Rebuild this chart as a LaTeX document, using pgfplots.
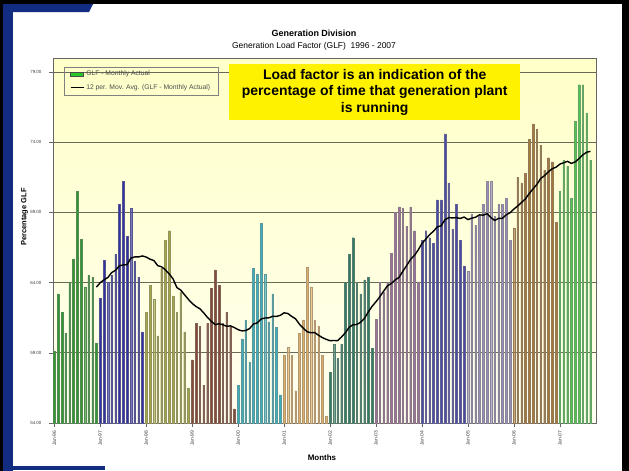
\documentclass[border=0pt]{standalone}
\usepackage{pgfplots}
\pgfplotsset{compat=1.18}
\usepackage{fontspec}
\setmainfont{Liberation Sans}
\definecolor{navy}{RGB}{18,44,130}
\definecolor{c96}{RGB}{50,150,50}
\definecolor{c97}{RGB}{50,50,165}
\definecolor{c98}{RGB}{165,165,70}
\definecolor{c99}{RGB}{135,75,55}
\definecolor{c00}{RGB}{60,175,185}
\definecolor{c01}{RGB}{220,175,105}
\definecolor{c02}{RGB}{50,125,100}
\definecolor{c03}{RGB}{155,115,150}
\definecolor{c04}{RGB}{75,75,165}
\definecolor{c05}{RGB}{150,140,180}
\definecolor{c06}{RGB}{165,120,60}
\definecolor{c07}{RGB}{80,195,80}
\definecolor{barline}{RGB}{125,125,125}
\definecolor{gridc}{RGB}{105,105,90}
\definecolor{legreen}{RGB}{40,200,40}
\definecolor{bgtop}{RGB}{255,255,200}
\definecolor{bgbot}{RGB}{255,255,240}
\pgfplotsset{yr/.style={ybar, bar width=1.6bp, bar shift=0pt, fill=#1, draw=#1!55!barline, line width=0.35bp, forget plot}}
\begin{document}
\begin{tikzpicture}
\fill[white] (0,0) rectangle (629bp,-471bp);
\fill[black] (0,0) rectangle (629bp,-4bp);
\fill[black] (622bp,0) rectangle (629bp,-471bp);
\fill[black] (0,0) rectangle (3bp,-471bp);
\fill[navy] (3bp,-4bp) rectangle (13bp,-471bp);
\fill[navy] (13bp,-4bp) -- (93bp,-4bp) -- (89bp,-12bp) -- (13bp,-12bp) -- cycle;
\fill[navy] (13bp,-466bp) rectangle (105bp,-470bp);
\node[font=\bfseries\fontsize{9}{10}\selectfont] at (314bp,-33bp) {Generation Division};
\node[font=\fontsize{8.5}{10}\selectfont] at (314bp,-46bp) {Generation Load Factor (GLF)\ \ 1996 - 2007};
\begin{axis}[
  at={(53bp,-423bp)}, anchor=south west,
  width=543bp, height=365bp, scale only axis,
  xmin=-0.34, xmax=141.44, ymin=54, ymax=80,
  ytick={54,59,64,69,74,79},
  yticklabels={54.00,59.00,64.00,69.00,74.00,79.00},
  xtick={0,12,...,132},
  xticklabels={Jan-96,Jan-97,Jan-98,Jan-99,Jan-00,Jan-01,Jan-02,Jan-03,Jan-04,Jan-05,Jan-06,Jan-07},
  tick pos=left,
  ymajorgrids, grid style={draw=gridc, line width=0.8bp},
  axis line style={draw=gray!80!black, line width=0.6bp},
  tick align=outside, major tick length=4bp, tick style={gray!80!black, line width=0.5bp},
  yticklabel style={font=\fontsize{4.5}{5}\selectfont, text=black!75, xshift=-4bp},
  xticklabel style={font=\fontsize{5}{6}\selectfont, text=black!75, rotate=90, anchor=east},
  axis background/.style={shade, top color=bgtop, bottom color=bgbot},
  legend cell align=left,
  legend style={at={(rel axis cs:0.02,0.976)}, anchor=north west, draw=gray, fill=none,
    font=\fontsize{6.8}{7.5}\selectfont, text=black!70, row sep=3bp, inner xsep=6bp, inner ysep=2bp},
]
\addplot[yr=c96] coordinates {(0,59.1)(1,63.2)(2,61.9)(3,60.4)(4,64.0)(5,65.7)(6,70.5)(7,67.1)(8,63.7)(9,64.5)(10,64.4)(11,59.7)};
\addplot[yr=c97] coordinates {(12,62.9)(13,65.6)(14,64.0)(15,64.5)(16,66.0)(17,69.6)(18,71.2)(19,67.3)(20,69.3)(21,65.5)(22,64.4)(23,60.5)};
\addplot[yr=c98] coordinates {(24,61.9)(25,63.8)(26,62.8)(27,60.2)(28,65.0)(29,67.0)(30,67.7)(31,63.05)(32,61.9)(33,63.3)(34,60.5)(35,56.5)};
\addplot[yr=c99] coordinates {(36,58.5)(37,61.1)(38,60.9)(39,56.7)(40,61.1)(41,63.6)(42,64.9)(43,63.8)(44,61.1)(45,61.9)(46,60.9)(47,55.0)};
\addplot[yr=c00] coordinates {(48,56.7)(49,60.0)(50,61.3)(51,58.3)(52,65.0)(53,64.6)(54,68.2)(55,64.6)(56,61.2)(57,63.2)(58,60.8)(59,56.0)};
\addplot[yr=c01] coordinates {(60,58.8)(61,59.4)(62,58.8)(63,56.3)(64,60.4)(65,61.3)(66,65.1)(67,63.7)(68,61.3)(69,60.9)(70,58.8)(71,54.5)};
\addplot[yr=c02] coordinates {(72,57.6)(73,59.6)(74,58.6)(75,59.6)(76,64.0)(77,66.0)(78,67.2)(79,64.0)(80,63.2)(81,64.2)(82,64.4)(83,59.3)};
\addplot[yr=c03] coordinates {(84,61.4)(85,64.0)(86,63.3)(87,64.0)(88,66.1)(89,69.0)(90,69.4)(91,69.3)(92,68.0)(93,69.4)(94,67.7)(95,64.05)};
\addplot[yr=c04] coordinates {(96,67.0)(97,67.7)(98,67.2)(99,66.8)(100,69.9)(101,69.9)(102,74.6)(103,71.1)(104,67.8)(105,69.6)(106,67.0)(107,65.2)};
\addplot[yr=c05] coordinates {(108,64.8)(109,68.9)(110,68.1)(111,68.8)(112,69.6)(113,71.2)(114,71.2)(115,68.7)(116,69.6)(117,69.6)(118,70.0)(119,67.0)};
\addplot[yr=c06] coordinates {(120,67.9)(121,71.5)(122,71.1)(123,71.8)(124,74.2)(125,75.3)(126,74.9)(127,73.8)(128,72.0)(129,72.9)(130,72.6)(131,68.3)};
\addplot[yr=c07] coordinates {(132,70.5)(133,72.7)(134,72.3)(135,70.0)(136,75.5)(137,78.1)(138,78.1)(139,76.1)(140,72.7)};
\addplot[black, line width=1.4bp, forget plot] coordinates {
(11,63.68)(12,64.0)(13,64.2)(14,64.37)(15,64.72)(16,64.88)(17,65.2)(18,65.26)(19,65.28)(20,65.75)
(21,65.83)(22,65.83)(23,65.9)(24,65.82)(25,65.67)(26,65.57)(27,65.21)(28,65.13)(29,64.91)(30,64.62)
(31,64.27)(32,63.65)(33,63.47)(34,63.14)(35,62.81)(36,62.52)(37,62.30)(38,62.14)(39,61.85)(40,61.52)
(41,61.24)(42,61.01)(43,61.07)(44,61.0)(45,60.89)(46,60.92)(47,60.8)(48,60.65)(49,60.56)(50,60.59)
(51,60.73)(52,61.05)(53,61.13)(54,61.41)(55,61.48)(56,61.49)(57,61.6)(58,61.59)(59,61.67)(60,61.85)
(61,61.8)(62,61.59)(63,61.42)(64,61.04)(65,60.76)(66,60.5)(67,60.43)(68,60.44)(69,60.25)(70,60.08)
(71,59.96)(72,59.86)(73,59.88)(74,59.86)(75,60.13)(76,60.43)(77,60.82)(78,61.0)(79,61.02)(80,61.18)
(81,61.46)(82,61.92)(83,62.32)(84,62.64)(85,63.0)(86,63.4)(87,63.77)(88,63.94)(89,64.19)(90,64.37)
(91,64.81)(92,65.21)(93,65.65)(94,65.92)(95,66.32)(96,66.79)(97,67.1)(98,67.42)(99,67.66)(100,67.97)
(101,68.05)(102,68.48)(103,68.63)(104,68.61)(105,68.63)(106,68.57)(107,68.67)(108,68.49)(109,68.59)(110,68.66)
(111,68.83)(112,68.8)(113,68.91)(114,68.63)(115,68.43)(116,68.58)(117,68.58)(118,68.83)(119,68.98)(120,69.24)
(121,69.46)(122,69.71)(123,69.96)(124,70.34)(125,70.68)(126,70.99)(127,71.42)(128,71.62)(129,71.89)(130,72.11)
(131,72.22)(132,72.44)(133,72.54)(134,72.64)(135,72.49)(136,72.6)(137,72.83)(138,73.1)(139,73.29)(140,73.35)};
\addlegendimage{legend image code/.code={\draw[fill=legreen, draw=black!70, line width=0.4bp] (0bp,-1.8bp) rectangle (13bp,1.8bp);}}
\addlegendentry{GLF - Monthly Actual}
\addlegendimage{legend image code/.code={\draw[black, line width=1.2bp] (0bp,0bp) -- (13bp,0bp);}}
\addlegendentry{12 per. Mov. Avg. (GLF - Monthly Actual)}
\end{axis}
\node[fill=yellow, minimum width=291bp, minimum height=56bp, inner sep=0pt, align=center,
  font=\bfseries\fontsize{14}{16.7}\selectfont] at (374.7bp,-92.2bp)
  {Load factor is an indication of the\\percentage of time that generation plant\\is running};
\node[rotate=90, font=\bfseries\fontsize{7.5}{9}\selectfont] at (24.5bp,-217bp) {Percentage GLF};
\node[font=\bfseries\fontsize{8}{9}\selectfont] at (322bp,-457.5bp) {Months};
\end{tikzpicture}
\end{document}
